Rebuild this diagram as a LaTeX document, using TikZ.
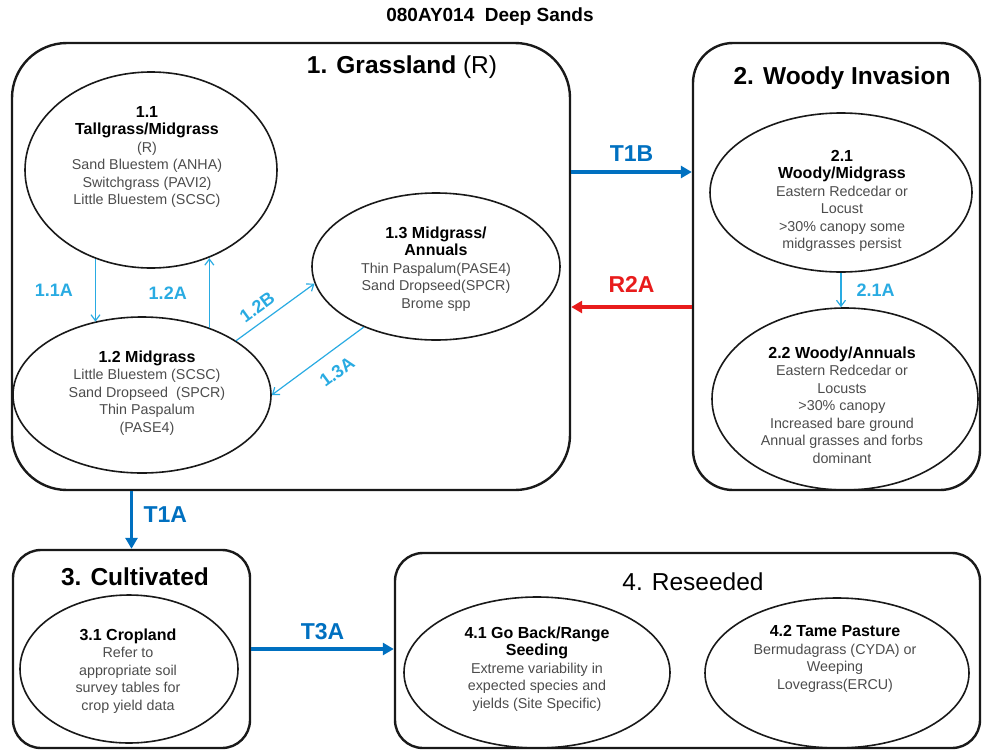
\documentclass[tikz,border=0pt]{standalone}
\usepackage{fontspec}
\setmainfont{Liberation Sans}
\usepackage{xcolor}
\usetikzlibrary{shapes.geometric,arrows.meta}
\definecolor{lblue}{RGB}{41,171,226}
\definecolor{dblue}{RGB}{0,112,192}
\definecolor{rred}{RGB}{232,28,28}
\newcommand{\hd}[1]{{\fontsize{16}{18}\selectfont\bfseries\color{black}#1}}

\begin{document}
\begin{tikzpicture}[x=1pt, y=-1pt,
    region/.style={rectangle, draw=black!90, line width=2.4pt, inner sep=0pt},
    state/.style={ellipse, draw=black!90, line width=1.6pt, inner sep=0pt},
    body/.style={align=center, text=black!70, font=\fontsize{14.3}{17.5}\selectfont},
    rtitle/.style={font=\fontsize{24.5}{28}\selectfont\bfseries},
    lbl/.style={text=lblue, inner sep=1pt, font=\fontsize{18}{20}\selectfont\bfseries},
    blbl/.style={font=\fontsize{23}{26}\selectfont\bfseries},
    smallarrow/.style={draw=lblue, line width=1.2pt, -{Straight Barb[length=6pt,width=9pt]}},
    bigarrow/.style={line width=3.5pt, -{Triangle[length=11pt,width=12pt]}}
]
\useasboundingbox (0,0) rectangle (982,750);

\node[font=\fontsize{19}{22}\selectfont\bfseries] (title) at (490,17) {080AY014~ Deep Sands};

% state boxes
\node[region, rounded corners=55pt, minimum width=558pt, minimum height=447pt] (b1) at (291,266.5) {};
\node[region, rounded corners=40pt, minimum width=287pt, minimum height=447pt] (b2) at (836.5,266.5) {};
\node[region, rounded corners=28pt, minimum width=237pt, minimum height=198pt] (b3) at (131.5,649) {};
\node[region, rounded corners=28pt, minimum width=585pt, minimum height=195pt] (b4) at (687.5,650.5) {};

\node[rtitle] (ti1) at (402,67) {1. Grassland \mdseries(R)};
\node[rtitle] (ti2) at (842,78) {2. Woody Invasion};
\node[rtitle] (ti3) at (135,577) {3. Cultivated};
\node[rtitle] (ti4) at (693,582) {\mdseries 4. Reseeded};

% community phases
\node[state, minimum width=252pt, minimum height=196pt] (s11) at (151,170) {};
\node[state, minimum width=258pt, minimum height=156pt] (s12) at (142,395) {};
\node[state, minimum width=248pt, minimum height=147pt] (s13) at (436,266.5) {};
\node[state, minimum width=262pt, minimum height=159pt] (s21) at (841,192.5) {};
\node[state, minimum width=266pt, minimum height=182pt] (s22) at (845,399) {};
\node[state, minimum width=218pt, minimum height=148pt] (s31) at (129,669) {};
\node[state, minimum width=266pt, minimum height=151pt] (s41) at (537,672.5) {};
\node[state, minimum width=264pt, minimum height=150pt] (s42) at (837,673) {};

\node[body] (t11) at (147,157) {\hd{1.1}\\\hd{Tallgrass/Midgrass}\\(R)\\Sand Bluestem (ANHA)\\Switchgrass (PAVI2)\\Little Bluestem (SCSC)};
\node[body] (t12) at (147,393) {\hd{1.2 Midgrass}\\Little Bluestem (SCSC)\\Sand Dropseed~ (SPCR)\\Thin Paspalum\\(PASE4)};
\node[body] (t13) at (436,269) {\hd{1.3 Midgrass/}\\\hd{Annuals}\\Thin Paspalum(PASE4)\\Sand Dropseed(SPCR)\\Brome spp};
\node[body] (t21) at (842,201) {\hd{2.1}\\\hd{Woody/Midgrass}\\Eastern Redcedar or\\Locust\\>30\% canopy some\\midgrasses persist};
\node[body] (t22) at (842,405) {\hd{2.2 Woody/Annuals}\\Eastern Redcedar or\\Locusts\\>30\% canopy\\Increased bare ground\\Annual grasses and forbs\\dominant};
\node[body] (t31) at (128,671) {\hd{3.1 Cropland}\\Refer to\\appropriate soil\\survey tables for\\crop yield data};
\node[body] (t41) at (537,669) {\hd{4.1 Go Back/Range}\\\hd{Seeding}\\Extreme variability in\\expected species and\\yields (Site Specific)};
\node[body] (t42) at (835,659) {\hd{4.2 Tame Pasture}\\Bermudagrass (CYDA) or\\Weeping\\Lovegrass(ERCU)};

% pathways
\draw[smallarrow] (s11.238) -- (s11.238 |- s12.123) node[midway, left=21pt, lbl] {1.1A};
\draw[smallarrow] (s12.45) -- (s12.45 |- s11.303) node[midway, left=21pt, lbl] {1.2A};
\draw[smallarrow] (s12.30) -- (s13.188) node[pos=0.38, sloped, above=7pt, lbl] {1.2B};
\draw[smallarrow] (s13.220) -- (s12.0) node[pos=0.42, sloped, below=12pt, lbl] {1.3A};
\draw[smallarrow] (s21.south) -- (s21.south |- s22.north) node[midway, right=14pt, lbl] {2.1A};

% transitions
\draw[bigarrow, dblue] ([yshift=94.5pt]b1.east) -- ([yshift=94.5pt]b2.west) node[midway, above=5pt, blbl] {T1B};
\draw[bigarrow, rred] ([yshift=-40.5pt]b2.west) -- ([yshift=-40.5pt]b1.east) node[midway, above=9pt, blbl] {R2A};
\draw[bigarrow, dblue] (b3.north |- b1.south) -- (b3.north) node[pos=0.4, right=7pt, blbl] {T1A};
\draw[bigarrow, dblue] (b3.east) -- (b3.east -| b4.west) node[midway, above=4pt, blbl] {T3A};
\end{tikzpicture}
\end{document}
